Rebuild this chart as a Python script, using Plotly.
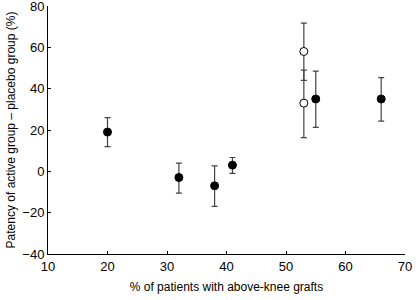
import plotly.graph_objects as go

# Filled points (x, y, upper, lower)
fx = [20, 32, 38, 41, 55, 66]
fy = [19, -3, -7, 3, 35, 35]
f_hi = [26, 4, 2.6, 6.7, 48.5, 45.3]
f_lo = [12, -10.5, -17, -1, 21.3, 24.3]

# Open points
ox = [53, 53]
oy = [58, 33]
o_hi = [71.7, 49]
o_lo = [44, 16.3]

fig = go.Figure()

def add(x, y, hi, lo, filled):
    fig.add_trace(go.Scatter(
        x=x, y=y, mode="markers",
        marker=dict(size=8, color="black" if filled else "white",
                    line=dict(color="black", width=1)),
        error_y=dict(type="data", symmetric=False,
                     array=[h - v for h, v in zip(hi, y)],
                     arrayminus=[v - l for l, v in zip(lo, y)],
                     color="#444444", thickness=1.2, width=3),
        showlegend=False, cliponaxis=False))

add(ox, oy, o_hi, o_lo, False)
add(fx, fy, f_hi, f_lo, True)

fig.update_layout(
    width=416, height=300,
    margin=dict(l=48, r=11, t=6, b=46),
    plot_bgcolor="white", paper_bgcolor="white",
    font=dict(family="Liberation Sans, Arial, sans-serif", size=13, color="black"),
    xaxis=dict(range=[10, 70], tickvals=[10, 20, 30, 40, 50, 60, 70],
               showgrid=False, zeroline=False, showline=True, linecolor="black",
               linewidth=1, ticks="inside", ticklen=3, tickcolor="black",
               automargin=False, ticklabeloverflow="allow",
               title=dict(text="% of patients with above-knee grafts",
                          font=dict(size=12), standoff=10)),
    yaxis=dict(range=[-40, 80], tickvals=[-40, -20, 0, 20, 40, 60, 80],
               ticktext=["\u221240", "\u221220", "0", "20", "40", "60", "80"],
               showgrid=False, zeroline=False, showline=True, linecolor="black",
               linewidth=1, ticks="inside", ticklen=3, tickcolor="black",
               automargin=False, ticklabeloverflow="allow",
               title=dict(text="Patency of active group \u2013 placebo group (%)",
                          font=dict(size=12), standoff=4)),
)

fig.write_html("out.html", config={"displayModeBar": False},
               post_script="document.body.style.margin='0';")
